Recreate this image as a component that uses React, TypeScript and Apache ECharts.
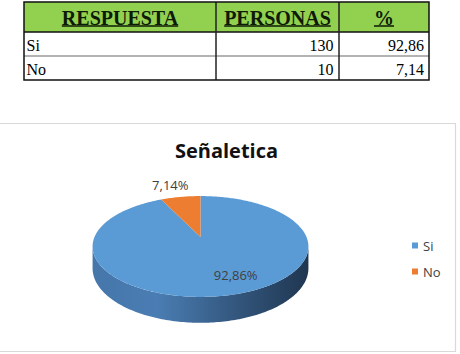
import React, { useEffect, useRef } from "react";
import * as echarts from "echarts";

// ---- data ----
const categories = ["Si", "No"];
const personas = [130, 10];
const percents = [92.86, 7.14];
const tableHeaders = ["RESPUESTA", "PERSONAS", "%"];
const chartTitle = "Señaletica";
const sliceColors = ["#5B9BD5", "#ED7D31"];

const fmt = (v: number) => v.toFixed(2).replace(".", ",");

// ---- 3D pie projection (layout) ----
const CX = 200.5;
const R = 106;
const PA = 4.1;
const PB = 237;
const PC = -0.188;
const DEPTH = 21;
const VIS_A = 100.8;
const VIS_B = 259.2;
// label placement per slice: radius fraction, pixel nudge
const labelPlace = [
  { r: 0.74, dx: 15, dy: -2.5 },
  { r: 1.2, dx: -7, dy: -5 },
];

function proj(deg: number, r: number, h: number): number[] {
  const t = (deg * Math.PI) / 180;
  const u = r * Math.sin(t);
  const v = -r * Math.cos(t);
  const d = 1 + PC * v;
  return [CX + (R * u) / d, (PA * v + PB + h) / d];
}

function arc(a: number, b: number, h: number): number[][] {
  const pts: number[][] = [];
  const n = Math.max(2, Math.ceil(Math.abs(b - a)));
  for (let k = 0; k <= n; k++) pts.push(proj(a + ((b - a) * k) / n, 1, h));
  return pts;
}

function measure(text: string, font: string): number {
  const c = document.createElement("canvas").getContext("2d");
  if (!c) return text.length * 10;
  c.font = font;
  return c.measureText(text).width;
}

export default function App() {
  const ref = useRef<HTMLDivElement>(null);

  useEffect(() => {
    if (!ref.current) return;
    const chart = echarts.init(ref.current, undefined, { renderer: "svg" });
    const total = percents.reduce((s, v) => s + v, 0);

    const sideFill = new echarts.graphic.LinearGradient(
      92, 0, 309, 0,
      [
        { offset: 0, color: "#4676aa" },
        { offset: 0.3, color: "#4a7db3" },
        { offset: 0.65, color: "#34587f" },
        { offset: 1, color: "#1f3650" },
      ],
      true
    );

    const series = categories.map((name, i) => ({
      type: "custom",
      name,
      coordinateSystem: "none",
      itemStyle: { color: sliceColors[i] },
      data: [percents[i]],
      renderItem: (_params: any, api: any) => {
        let before = 0;
        for (let j = 0; j < i; j++) before += percents[j];
        const start = (before / total) * 360;
        const end = start + (api.value(0) / total) * 360;
        const children: any[] = [];
        const a = Math.max(start, VIS_A);
        const b = Math.min(end, VIS_B);
        if (b > a) {
          const top = arc(a, b, 0);
          const bot = arc(b, a, DEPTH);
          children.push({
            type: "polygon",
            shape: { points: top.concat(bot) },
            style: { fill: sideFill, stroke: null },
          });
        }
        const face = [proj(0, 0, 0)].concat(arc(start, end, 0));
        children.push({
          type: "polygon",
          shape: { points: face },
          style: { fill: sliceColors[i], stroke: null },
        });
        const mid = (start + end) / 2;
        const lp = proj(mid, labelPlace[i].r, 0);
        children.push({
          type: "text",
          x: lp[0] + labelPlace[i].dx,
          y: lp[1] + labelPlace[i].dy,
          style: {
            text: fmt(api.value(0)) + "%",
            fill: "#404040",
            font: "13px 'Open Sans'",
            align: "center",
            verticalAlign: "middle",
          },
        });
        return { type: "group", children };
      },
    }));

    // ---- table (graphic) ----
    const colX = [24, 216, 339, 429];
    const rowY = [2, 32, 56, 80];
    const headFont = "bold 20px 'Liberation Serif'";
    const g: any[] = [];
    g.push({
      type: "rect",
      shape: { x: colX[0], y: rowY[0], width: colX[3] - colX[0], height: rowY[1] - rowY[0] },
      style: { fill: "#92D050" },
    });
    tableHeaders.forEach((h, k) => {
      const cx = (colX[k] + colX[k + 1]) / 2;
      const w = measure(h, headFont);
      g.push({
        type: "text",
        x: cx,
        y: 17.5,
        style: { text: h, font: headFont, fill: "#0d1a05", align: "center", verticalAlign: "middle" },
      });
      g.push({
        type: "line",
        shape: { x1: cx - w / 2, y1: 26, x2: cx + w / 2, y2: 26 },
        style: { stroke: "#0d1a05", lineWidth: 1.5 },
      });
    });
    const bodyFont = "16px 'Liberation Serif'";
    categories.forEach((c, r) => {
      const y = (rowY[r + 1] + rowY[r + 2]) / 2 + 1;
      g.push({ type: "text", x: colX[0] + 2.5, y, style: { text: c, font: bodyFont, fill: "#000", align: "left", verticalAlign: "middle" } });
      g.push({ type: "text", x: colX[2] - 5.5, y, style: { text: String(personas[r]), font: bodyFont, fill: "#000", align: "right", verticalAlign: "middle" } });
      g.push({ type: "text", x: colX[3] - 5, y, style: { text: fmt(percents[r]), font: bodyFont, fill: "#000", align: "right", verticalAlign: "middle" } });
    });
    // row separator (gray)
    g.push({ type: "line", shape: { x1: colX[0], y1: rowY[2], x2: colX[3], y2: rowY[2] }, style: { stroke: "#9a9a9a", lineWidth: 1.5 } });
    // header bottom
    g.push({ type: "line", shape: { x1: colX[0], y1: rowY[1], x2: colX[3], y2: rowY[1] }, style: { stroke: "#111", lineWidth: 1.5 } });
    // column separators
    [colX[1], colX[2]].forEach((x) =>
      g.push({ type: "line", shape: { x1: x, y1: rowY[0], x2: x, y2: rowY[3] }, style: { stroke: "#222", lineWidth: 1.5 } })
    );
    // outer border
    g.push({
      type: "rect",
      shape: { x: colX[0], y: rowY[0], width: colX[3] - colX[0], height: rowY[3] - rowY[0] },
      style: { fill: "none", stroke: "#111", lineWidth: 1.5 },
    });
    // chart frame
    g.push({
      type: "rect",
      shape: { x: -1, y: 123.5, width: 456.5, height: 228 },
      style: { fill: "none", stroke: "#d9d9d9", lineWidth: 1.2 },
    });
    // chart title
    g.push({
      type: "text",
      x: 226.5,
      y: 150,
      style: { text: chartTitle, font: "bold 20px 'Open Sans'", fill: "#111", align: "center", verticalAlign: "middle" },
    });

    chart.setOption({
      animation: false,
      backgroundColor: "#fff",
      legend: {
        data: categories,
        orient: "vertical",
        left: 407,
        top: 234,
        icon: "rect",
        itemWidth: 6,
        itemHeight: 6,
        itemGap: 13,
        textStyle: { fontFamily: "Open Sans", fontSize: 13, color: "#404040", lineHeight: 13 },
        selectedMode: false,
      },
      graphic: g,
      series,
    });

    return () => chart.dispose();
  }, []);

  return (
    <div
      ref={ref}
      style={{ position: "absolute", left: 0, top: 0, width: 460, height: 354 }}
    />
  );
}
